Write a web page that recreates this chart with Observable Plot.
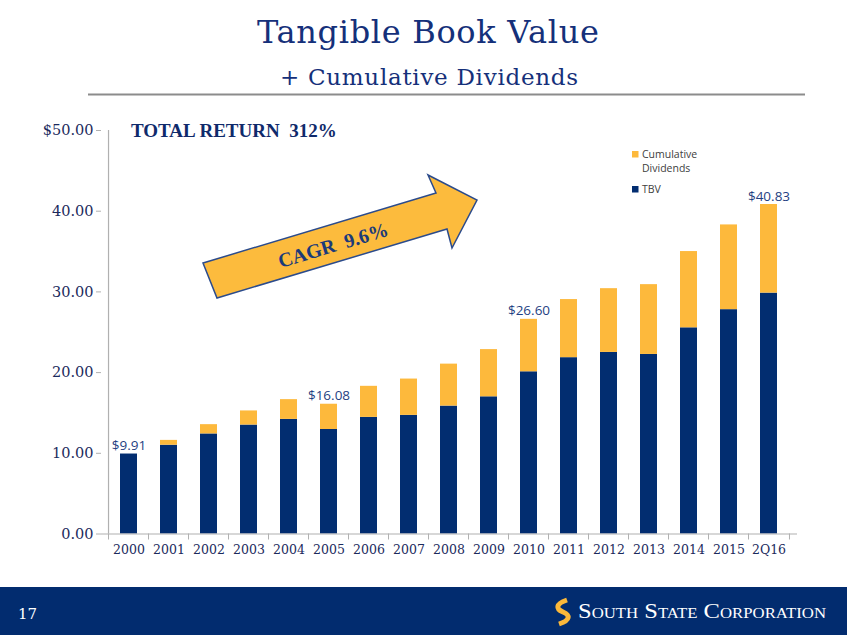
<!DOCTYPE html>
<html>
<head>
<meta charset="utf-8">
<script src="https://cdn.jsdelivr.net/npm/d3@7"></script>
<script src="https://cdn.jsdelivr.net/npm/@observablehq/plot@0.6"></script>
<style>
  html, body { margin: 0; padding: 0; background: #ffffff; }
  #page { position: relative; width: 847px; height: 635px; overflow: hidden; background: #ffffff; }
  #chart { position: absolute; left: 0; top: 120px; }
  #chart svg { display: block; }
  #deco { position: absolute; left: 0; top: 0; pointer-events: none; }
</style>
</head>
<body>
<div id="page">
  <div id="chart"></div>
  <svg id="deco" width="847" height="635" xmlns="http://www.w3.org/2000/svg">
    <text x="428" y="43" text-anchor="middle" font-family="DejaVu Serif" font-size="32" fill="#15307a" textLength="342" lengthAdjust="spacing">Tangible Book Value</text>
    <text x="429" y="85" text-anchor="middle" font-family="DejaVu Serif" font-size="23" fill="#15307a" textLength="298" lengthAdjust="spacing">+ Cumulative Dividends</text>
    <line x1="88" y1="94.5" x2="805" y2="94.5" stroke="#8c8c8c" stroke-width="2"/>
    <text x="131" y="137" font-family="Liberation Serif" font-weight="bold" font-size="19" fill="#0f2a6b" style="white-space:pre">TOTAL RETURN  312%</text>

    <polygon points="203,263 436,193 428,175 477,200 452,248 447,229 217,298" fill="#fcbb3d" stroke="#2b4b8c" stroke-width="1.5" stroke-linejoin="miter"/>
    <text transform="translate(333,245) rotate(-16.7)" text-anchor="middle" dy="0.35em" font-family="Liberation Serif" font-weight="bold" font-size="20" fill="#1b3a7a" style="white-space:pre">CAGR  9.6%</text>

    <g id="legend" font-family="Open Sans" font-size="10.5" fill="#404040"></g>

    <rect x="0" y="587" width="847" height="48" fill="#022c6f"/>
    <text x="18" y="619" font-family="DejaVu Serif" font-size="15" fill="#ffffff">17</text>
    <path d="M567,600 C555,604 556,609 563,612 C570,615 571,620 559,624" fill="none" stroke="#fbb83a" stroke-width="5"/>
    <text x="578" y="618" font-family="Liberation Serif" font-size="22" fill="#ffffff" style="font-variant:small-caps" textLength="248" lengthAdjust="spacingAndGlyphs">South State Corporation</text>
  </svg>
</div>
<script>
// ---- data ----
const categories = ["2000","2001","2002","2003","2004","2005","2006","2007","2008","2009","2010","2011","2012","2013","2014","2015","2Q16"];
const tbv        = [9.91, 11.0, 12.4, 13.5, 14.2, 12.95, 14.45, 14.7, 15.85, 17.0, 20.1, 21.85, 22.5, 22.25, 25.55, 27.8, 29.85];
const dividends  = [0.0, 0.6, 1.15, 1.75, 2.45, 3.13, 3.85, 4.5, 5.2, 5.85, 6.5, 7.2, 7.9, 8.65, 9.45, 10.5, 10.98];
const seriesNames = ["TBV", "Cumulative Dividends"];
const labelCategories = ["2000", "2005", "2010", "2Q16"];
const labelValues = [9.91, 16.08, 26.60, 40.83];
const yTicks = [0, 10, 20, 30, 40, 50];
const legendLines = [["Cumulative", "Dividends"], ["TBV"]];

// ---- styles ----
const NAVY = "#022d70";
const GOLD = "#fdb93c";
const AXIS = "#b0b0b0";
const TICKTEXT = "#1b2a5c";
const LABEL = "#1f3f82";

const rows = categories.flatMap((c, i) => [
  {year: c, series: seriesNames[0], value: tbv[i]},
  {year: c, series: seriesNames[1], value: dividends[i]}
]);

const W = 847, H = 440, ML = 101, MR = 50, MT = 10, MB = 26.5;
const step = (W - ML - MR) / categories.length;

const chart = Plot.plot({
  width: W, height: H,
  marginLeft: ML, marginRight: MR, marginTop: MT, marginBottom: MB,
  style: {background: "transparent", fontFamily: "'DejaVu Serif', serif", color: TICKTEXT, overflow: "visible"},
  x: {domain: categories, paddingInner: 0.57, paddingOuter: 0.285, axis: null},
  y: {domain: [0, 50], axis: null},
  color: {domain: seriesNames, range: [NAVY, GOLD]},
  marks: [
    Plot.barY(rows, {x: "year", y: "value", fill: "series"}),
    Plot.ruleY([0], {stroke: AXIS, strokeWidth: 1.2}),
    Plot.ruleX([categories[0]], {dx: -step / 2, y1: 0, y2: 50, stroke: AXIS, strokeWidth: 1.2}),
    Plot.ruleX(categories, {dx: -step / 2, y1: 0, y2: 0, insetBottom: -6, stroke: AXIS}),
    Plot.ruleX([categories[categories.length - 1]], {dx: step / 2, y1: 0, y2: 0, insetBottom: -6, stroke: AXIS}),
    Plot.axisY({ticks: yTicks, tickSize: 5, tickPadding: 3, stroke: AXIS, fill: TICKTEXT,
      fontSize: 14.5, fontFamily: "DejaVu Serif",
      tickFormat: d => (d === 50 ? "$" : "") + d.toFixed(2), label: null}),
    Plot.axisX({tickSize: 0, tickPadding: 11, fill: TICKTEXT, fontSize: 12.5, fontFamily: "DejaVu Serif", label: null}),
    Plot.text(labelValues, {x: (d, i) => labelCategories[i], y: d => d, text: d => "$" + d.toFixed(2),
      lineAnchor: "bottom", dy: -4, fontFamily: "Open Sans", fontSize: 13.5, fill: LABEL})
  ]
});
document.getElementById("chart").appendChild(chart);

// legend
const lg = document.getElementById("legend");
const ns = "http://www.w3.org/2000/svg";
const legendEntries = [{color: GOLD, y: 151}, {color: NAVY, y: 186}];
legendEntries.forEach((e, k) => {
  const r = document.createElementNS(ns, "rect");
  r.setAttribute("x", 632); r.setAttribute("y", e.y);
  r.setAttribute("width", 6.5); r.setAttribute("height", 6.5);
  r.setAttribute("fill", e.color);
  lg.appendChild(r);
  legendLines[k].forEach((line, j) => {
    const t = document.createElementNS(ns, "text");
    t.setAttribute("x", 642); t.setAttribute("y", e.y + 6.5 + j * 14);
    t.textContent = line;
    lg.appendChild(t);
  });
});
</script>
</body>
</html>
